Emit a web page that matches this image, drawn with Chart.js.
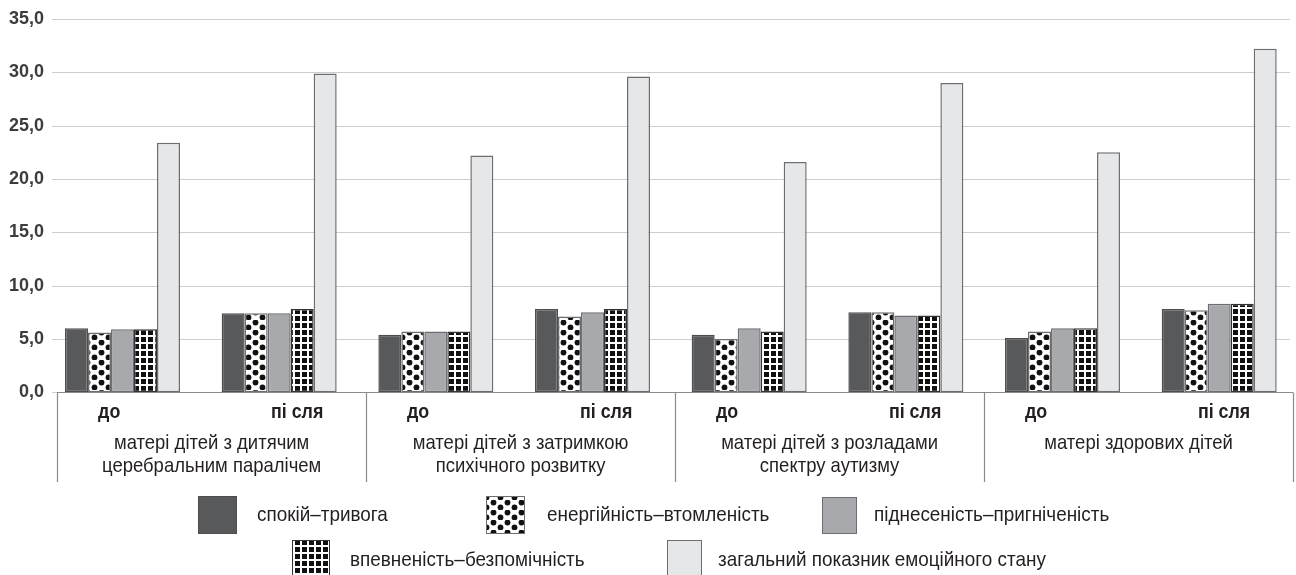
<!DOCTYPE html>
<html>
<head>
<meta charset="utf-8">
<script src="https://cdn.jsdelivr.net/npm/chart.js@4.4.1/dist/chart.umd.min.js"></script>
<style>
  html, body { margin: 0; padding: 0; background: #ffffff; overflow: hidden; }
  canvas { display: block; }
</style>
</head>
<body>
<canvas id="chart" width="1296" height="575"></canvas>
<script>
// ---- data -------------------------------------------------------------
const categories = ['до', 'пі сля', 'до', 'пі сля', 'до', 'пі сля', 'до', 'пі сля'];
const groupLabels = [
  ['матері дітей з дитячим', 'церебральним паралічем'],
  ['матері дітей з затримкою', 'психічного розвитку'],
  ['матері дітей з розладами', 'спектру аутизму'],
  ['матері здорових дітей']
];
const seriesNames = [
  'спокій–тривога',
  'енергійність–втомленість',
  'піднесеність–пригніченість',
  'впевненість–безпомічність',
  'загальний показник емоційного стану'
];
const calmAnxiety            = [6.0, 7.4, 5.4, 7.8, 5.4, 7.5, 5.1, 7.8];
const energyFatigue          = [5.6, 7.4, 5.7, 7.1, 5.0, 7.5, 5.7, 7.7];
const elationDepression      = [5.9, 7.4, 5.7, 7.5, 6.0, 7.2, 6.0, 8.3];
const confidenceHelplessness = [5.9, 7.8, 5.7, 7.8, 5.7, 7.2, 6.0, 8.3];
const overallState           = [23.4, 29.9, 22.2, 29.6, 21.6, 29.0, 22.5, 32.2];
const yTickValues = [0, 5, 10, 15, 20, 25, 30, 35];

// ---- styling helpers --------------------------------------------------
const SANS = "'Liberation Sans', Arial, sans-serif";
const TEXT = '#231f20';

const canvas = document.getElementById('chart');
const ctx = canvas.getContext('2d');

function dotPattern() {
  const t = document.createElement('canvas');
  t.width = 14; t.height = 10;
  const g = t.getContext('2d');
  g.fillStyle = '#ffffff';
  g.fillRect(0, 0, 14, 10);
  g.fillStyle = '#111111';
  [[3.5, 2.5], [10.5, 7.5]].forEach(([x, y]) => {
    g.beginPath(); g.arc(x, y, 2.9, 0, Math.PI * 2); g.fill();
  });
  return ctx.createPattern(t, 'repeat');
}
function gridPattern() {
  const t = document.createElement('canvas');
  t.width = 7; t.height = 7;
  const g = t.getContext('2d');
  g.fillStyle = '#ffffff';
  g.fillRect(0, 0, 7, 7);
  g.fillStyle = '#111111';
  g.fillRect(1, 1, 5, 5);
  return ctx.createPattern(t, 'repeat');
}
const dots = dotPattern();
const squares = gridPattern();

const seriesStyles = [
  { fill: '#58595b', border: '#4d4d4f' },
  { fill: dots,      border: '#6d6e71' },
  { fill: '#a7a9ac', border: '#6d6e71' },
  { fill: squares,   border: '#333333' },
  { fill: '#e6e7e8', border: '#6d6e71' }
];
const seriesValues = [calmAnxiety, energyFatigue, elationDepression, confidenceHelplessness, overallState];

const datasets = seriesValues.map((vals, i) => ({
  label: seriesNames[i],
  data: vals,
  backgroundColor: seriesStyles[i].fill,
  borderColor: seriesStyles[i].border,
  borderWidth: 1.5,
  borderSkipped: false,
  categoryPercentage: 0.734,
  barPercentage: 1.0,
  clip: false
}));

// text drawn with a slight horizontal squeeze for a condensed look
function squeezedText(c, text, x, y, align, font, squeeze) {
  c.save();
  c.font = font;
  c.textAlign = align;
  c.textBaseline = 'middle';
  c.translate(x, y);
  c.scale(squeeze, 1);
  c.fillText(text, 0, 0);
  c.restore();
}

// horizontal gridlines behind the bars
const gridLines = {
  id: 'gridLines',
  beforeDatasetsDraw(chart) {
    const y = chart.scales.y;
    const c = chart.ctx;
    c.save();
    c.strokeStyle = '#cdcdcd';
    c.lineWidth = 1.2;
    yTickValues.forEach(v => {
      const py = Math.round(y.getPixelForValue(v)) + 0.5;
      c.beginPath();
      c.moveTo(52, py);
      c.lineTo(1290, py);
      c.stroke();
    });
    c.restore();
  }
};

// category table under the bars and the legend
const tableAndLegend = {
  id: 'tableAndLegend',
  afterDatasetsDraw(chart) {
    const x = chart.scales.x, y = chart.scales.y;
    const c = chart.ctx;
    const half = (x.getPixelForValue(1) - x.getPixelForValue(0)) / 2;
    const left = x.getPixelForValue(0) - half + 13;
    const right = x.getPixelForValue(categories.length - 1) + half - 4.5;
    const cellW = (right - left) / groupLabels.length;
    const y0 = Math.round(y.getPixelForValue(0)) + 0.5;

    c.save();
    c.strokeStyle = '#8a8a8a';
    c.lineWidth = 1.2;
    c.beginPath();
    c.moveTo(left, y0); c.lineTo(right, y0);
    for (let k = 0; k <= groupLabels.length; k++) {
      const gx = Math.round(left + k * cellW) + 0.5;
      c.moveTo(gx, y0); c.lineTo(gx, 482);
    }
    c.stroke();

    c.fillStyle = TEXT;
    for (let k = 0; k < groupLabels.length; k++) {
      const gl = left + k * cellW;
      squeezedText(c, categories[2 * k], gl + 52, 412, 'center', `bold 21px ${SANS}`, 0.85);
      squeezedText(c, categories[2 * k + 1], gl + 240, 412, 'center', `bold 21px ${SANS}`, 0.85);
      groupLabels[k].forEach((line, j) =>
        squeezedText(c, line, gl + cellW / 2, 443 + j * 23, 'center', `21px ${SANS}`, 0.88));
    }

    // legend
    const items = [
      { box: [198, 496, 39, 38], tx: 257, ty: 515 },
      { box: [486, 496, 39, 38], tx: 547, ty: 515 },
      { box: [822, 497, 35, 37], tx: 874, ty: 515 },
      { box: [292, 540, 38, 38], tx: 350, ty: 560 },
      { box: [667, 540, 35, 38], tx: 718, ty: 560 }
    ];
    chart.data.datasets.forEach((ds, i) => {
      const it = items[i];
      const [bx, by, bw, bh] = it.box;
      c.fillStyle = ds.backgroundColor;
      c.fillRect(bx, by, bw, bh);
      c.strokeStyle = ds.borderColor;
      c.lineWidth = 1;
      c.strokeRect(bx + 0.5, by + 0.5, bw - 1, bh - 1);
      c.fillStyle = TEXT;
      squeezedText(c, ds.label, it.tx, it.ty, 'left', `21px ${SANS}`, 0.9);
    });
    c.restore();
  }
};

new Chart(ctx, {
  type: 'bar',
  data: { labels: categories, datasets },
  options: {
    responsive: false,
    animation: false,
    devicePixelRatio: 1,
    layout: { padding: { left: 0, right: 76.8, top: 19, bottom: 182.7 } },
    plugins: { legend: { display: false }, tooltip: { enabled: false } },
    scales: {
      x: {
        type: 'category',
        offset: false,
        display: false,
        grid: { display: false }
      },
      y: {
        min: 0,
        max: 35,
        afterFit(scale) {
          scale.width = 122.5;
          scale.paddingTop = 0;
          scale.paddingBottom = 0;
        },
        afterBuildTicks(scale) { scale.ticks = yTickValues.map(v => ({ value: v })); },
        ticks: {
          padding: 78.5,
          color: '#3c3c3c',
          font: { family: SANS, size: 18, weight: 'bold' },
          callback: v => v.toFixed(1).replace('.', ',')
        },
        grid: { display: false, drawTicks: false },
        border: { display: false }
      }
    }
  },
  plugins: [gridLines, tableAndLegend]
});
</script>
</body>
</html>
